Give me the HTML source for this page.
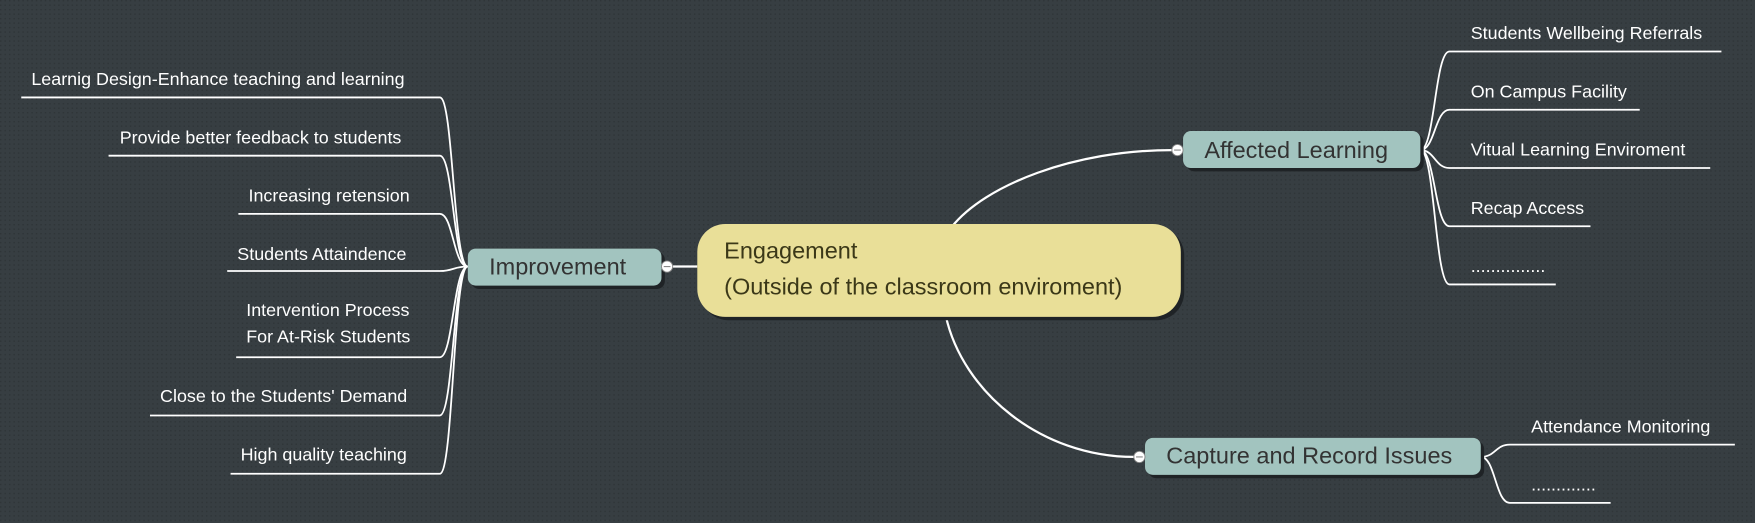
<!DOCTYPE html>
<html><head><meta charset="utf-8"><style>
html,body{margin:0;padding:0;background:#363c40;}
svg{display:block}
text{font-family:"Liberation Sans",sans-serif;}
</style></head><body>
<svg width="1755" height="523" viewBox="0 0 1568 467" preserveAspectRatio="none" xmlns="http://www.w3.org/2000/svg">
<defs>
<pattern id="g" width="4" height="4" patternUnits="userSpaceOnUse">
<rect width="4" height="4" fill="#373e42"/>
<rect width="1.3" height="1.3" fill="#2f3538"/>
</pattern>
</defs>
<rect width="1568" height="467" fill="url(#g)"/>
<g fill="none" stroke="#ffffff" stroke-width="2">
<!-- main curves -->
<path d="M850 203 C 880 165, 960 134, 1047 134"/>
<path d="M845 282 C 860 350, 930 408, 1013 408"/>
<path d="M601 238 L623 238"/>
<!-- left leaves -->
<g stroke-width="1.6">
<path d="M19 87 L393 87 C405 87, 405 238, 418 238"/>
<path d="M97 139 L393 139 C405 139, 405 238, 418 238"/>
<path d="M213 191 L393 191 C405 191, 405 238, 418 238"/>
<path d="M203 242 L393 242 C405 242, 405 238, 418 238"/>
<path d="M211 319 L393 319 C405 319, 405 238, 418 238"/>
<path d="M134 371 L393 371 C405 371, 405 238, 418 238"/>
<path d="M206 423 L393 423 C405 423, 405 238, 418 238"/>
<!-- right leaves -->
<path d="M1538 46 L1295 46 C1282 46, 1282 134, 1269 134"/>
<path d="M1465 98 L1295 98 C1282 98, 1282 134, 1269 134"/>
<path d="M1528 150 L1295 150 C1282 150, 1282 134, 1269 134"/>
<path d="M1421 202 L1295 202 C1282 202, 1282 134, 1269 134"/>
<path d="M1390 254 L1295 254 C1282 254, 1282 134, 1269 134"/>
<path d="M1550 397 L1349 397 C1336 397, 1336 408, 1323 408"/>
<path d="M1439 449 L1349 449 C1336 449, 1336 408, 1323 408"/>
</g>
</g>
<!-- shadows -->
<rect x="626" y="203" width="432" height="83" rx="25" fill="#1f2326"/>
<rect x="421" y="225" width="173" height="33" rx="7" fill="#1f2326"/>
<rect x="1060" y="120" width="212" height="33" rx="7" fill="#1f2326"/>
<rect x="1026" y="394" width="300" height="33" rx="7" fill="#1f2326"/>
<!-- nodes -->
<rect x="623" y="200" width="432" height="83" rx="25" fill="#e9df98"/>
<text x="647" y="231" font-size="21" fill="#3b3818">Engagement</text>
<text x="647" y="263" font-size="21" fill="#3b3818">(Outside of the classroom enviroment)</text>
<rect x="418" y="222" width="173" height="33" rx="7" fill="#a2c4bf"/>
<text x="437" y="245" font-size="21" fill="#333">Improvement</text>
<rect x="1057" y="117" width="212" height="33" rx="7" fill="#a2c4bf"/>
<text x="1076" y="141" font-size="21" fill="#333">Affected Learning</text>
<rect x="1023" y="391" width="300" height="33" rx="7" fill="#a2c4bf"/>
<text x="1042" y="414" font-size="21" fill="#333">Capture and Record Issues</text>
<!-- collapse circles -->
<g fill="#fff" stroke="#888" stroke-width="0.8">
<circle cx="596" cy="238" r="5"/>
<circle cx="1052" cy="134" r="5"/>
<circle cx="1018" cy="408" r="5"/>
</g>
<g stroke="#888" stroke-width="1">
<path d="M593 238h6M1049 134h6M1015 408h6"/>
</g>
<!-- leaf labels -->
<g font-size="16" fill="#ffffff">
<text x="28" y="76">Learnig Design-Enhance teaching and learning</text>
<text x="107" y="128">Provide better feedback to students</text>
<text x="222" y="180">Increasing retension</text>
<text x="212" y="232">Students Attaindence</text>
<text x="220" y="282">Intervention Process</text>
<text x="220" y="306">For At-Risk Students</text>
<text x="143" y="359">Close to the Students' Demand</text>
<text x="215" y="411">High quality teaching</text>
<text x="1314" y="35">Students Wellbeing Referrals</text>
<text x="1314" y="87">On Campus Facility</text>
<text x="1314" y="139">Vitual Learning Enviroment</text>
<text x="1314" y="191">Recap Access</text>
<text x="1314" y="243">...............</text>
<text x="1368" y="386">Attendance Monitoring</text>
<text x="1368" y="438">.............</text>
</g>
</svg>
</body></html>
